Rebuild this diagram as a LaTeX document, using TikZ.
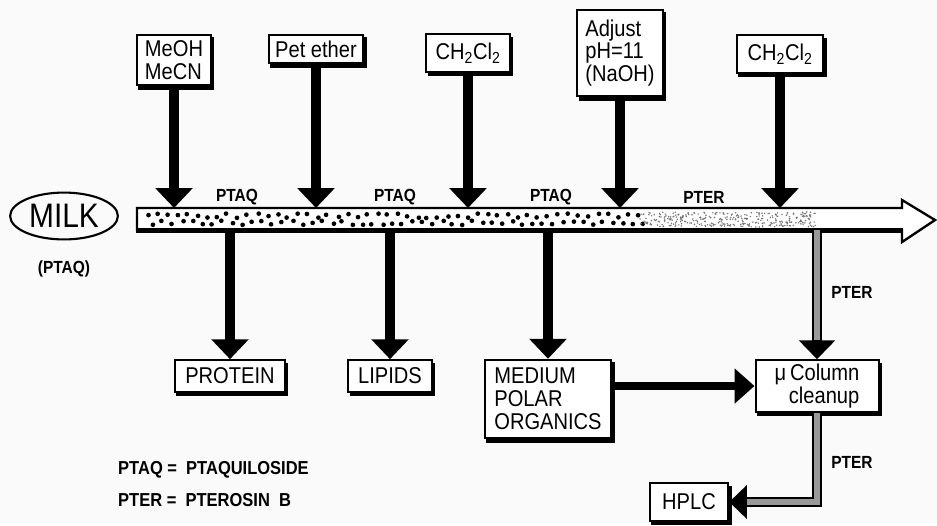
\documentclass[tikz,border=0pt]{standalone}
\usepackage{fontspec}
\setmainfont{Liberation Sans}[FakeStretch=0.88]
\setsansfont{Liberation Sans}[FakeStretch=0.88]
\usetikzlibrary{positioning,shapes.geometric,arrows.meta,backgrounds}

\newcommand{\boxfont}{\fontsize{19.5}{19.5}\selectfont}
\newcommand{\lblfont}{\fontsize{15}{17}\selectfont\bfseries}

\begin{document}
\begin{tikzpicture}[
    x=0.03cm, y=-0.03cm,
    stage/.style={rectangle, draw=black, line width=1.7pt, fill=white, font=\boxfont, align=left, inner sep=2pt},
    flow/.style={line width=8pt, -{Triangle[length=17pt, width=31pt]}},
    chan/.style={line width=8.5pt, line join=miter, -{Triangle[length=16pt, width=30pt]}},
    chanfill/.style={line width=5pt, line join=miter, black!40, shorten >=16pt},
    lbl/.style={font=\lblfont, inner sep=0pt}
]
    % pipe levels
    \coordinate (ptop) at (0,208);
    \coordinate (pbot) at (0,230);

    \node[ellipse, draw, line width=1.8pt, minimum width=92pt, minimum height=40pt, inner sep=0pt,
          font=\fontsize{29}{30}\selectfont] (milk) at (64,216) {MILK};
    \node[lbl, below=17pt of milk] (milksrc) {(PTAQ)};

    % main pipe
    \draw[line width=2pt, fill=white] (137,208) -- (902,208) -- (902,200) -- (935,220) -- (902,242)
        -- (902,230) -- (137,230) -- cycle;
    \draw[line width=3.5pt] (136,230.5) -- (903,230.5);
    \pgfmathsetseed{17}
    \foreach \k in {0,...,49} {
        \pgfmathsetmacro{\dxa}{146+10*\k+3*rnd}
        \pgfmathsetmacro{\dya}{213.5+4.5*rnd}
        \pgfmathsetmacro{\dxb}{146+10*\k+5+3*rnd}
        \pgfmathsetmacro{\dyb}{220.5+4.5*rnd}
        \fill (\dxa,\dya) circle (2pt);
        \fill (\dxb,\dyb) circle (2pt);
    }
    \foreach \k in {0,...,340} {
        \pgfmathsetmacro{\dxc}{640+176*rnd}
        \pgfmathsetmacro{\dyc}{212+15*rnd}
        \fill[black!55] (\dxc,\dyc) circle (0.7pt);
    }

    % solvents in
    \node[stage, minimum width=63pt, minimum height=43pt] (meoh) at (174,60) {MeOH\\MeCN};
    \node[stage, minimum width=81pt, minimum height=24pt] (pet) at (316,49) {Pet ether};
    \node[stage, minimum width=71pt, minimum height=32pt] (dcma) at (468,53) {CH\textsubscript{2}Cl\textsubscript{2}};
    \node[stage, minimum width=73pt, minimum height=74pt] (adjust) at (620,53) {Adjust\\pH=11\\(NaOH)};
    \node[stage, minimum width=74pt, minimum height=32pt] (dcmb) at (780,54) {CH\textsubscript{2}Cl\textsubscript{2}};

    \foreach \src in {meoh,pet,dcma,adjust,dcmb}
        \draw[flow] (\src) -- (\src |- ptop);

    \node[lbl] (tagA) at (237,197) {PTAQ};
    \node[lbl] (tagB) at (395,197) {PTAQ};
    \node[lbl] (tagC) at (551,197) {PTAQ};
    \node[lbl] (tagD) at (704,197) {PTER};

    % fractions out
    \node[stage, minimum width=94pt, minimum height=27pt] (protein) at (230,376) {PROTEIN};
    \node[stage, minimum width=71pt, minimum height=27pt] (lipids) at (390,376) {LIPIDS};
    \node[stage, minimum width=108pt, minimum height=67pt] (medium) at (548,399) {MEDIUM\\POLAR\\ORGANICS};
    \node[stage, align=right, minimum width=105pt, minimum height=44pt] (mucol) at (817,386) {μ\,Column\\cleanup};
    \node[stage, minimum width=67pt, minimum height=32pt] (hplc) at (689,502) {HPLC};

    \foreach \dst in {protein,lipids,medium}
        \draw[flow] (\dst |- pbot) -- (\dst);
    \draw[line width=7pt, -{Triangle[length=17pt, width=29pt]}] (medium.east |- mucol) -- (mucol);

    % pterosin channel
    \coordinate (tap) at (mucol |- pbot);
    \draw[chan] (tap) -- (mucol);
    \draw[chanfill] (tap) -- (mucol.north);
    \draw[chan, -{Triangle[length=15pt, width=28pt]}] (mucol) |- (hplc);
    \draw[chanfill, shorten >=15pt] (mucol) |- (hplc);

    \node[lbl] (tagE) at (852,292) {PTER};
    \node[lbl] (tagF) at (852,462) {PTER};

    % legend
    \node[lbl, anchor=west, font=\fontsize{16}{18}\selectfont\bfseries] (legA) at (118,470) {PTAQ = \ PTAQUILOSIDE};
    \node[lbl, anchor=west, font=\fontsize{16}{18}\selectfont\bfseries] (legB) at (118,500) {PTER = \ PTEROSIN \ B};

    % paper and box shadows
    \begin{scope}[on background layer]
        \fill[black!2] (0,0) rectangle (937,523);
        \foreach \n in {meoh,pet,dcma,adjust,dcmb,protein,lipids,medium,mucol,hplc}
            \fill ([xshift=2pt, yshift=-3pt]\n.north west) rectangle ([xshift=2pt, yshift=-3pt]\n.south east);
    \end{scope}
    \useasboundingbox (0,0) rectangle (937,523);
\end{tikzpicture}
\end{document}
